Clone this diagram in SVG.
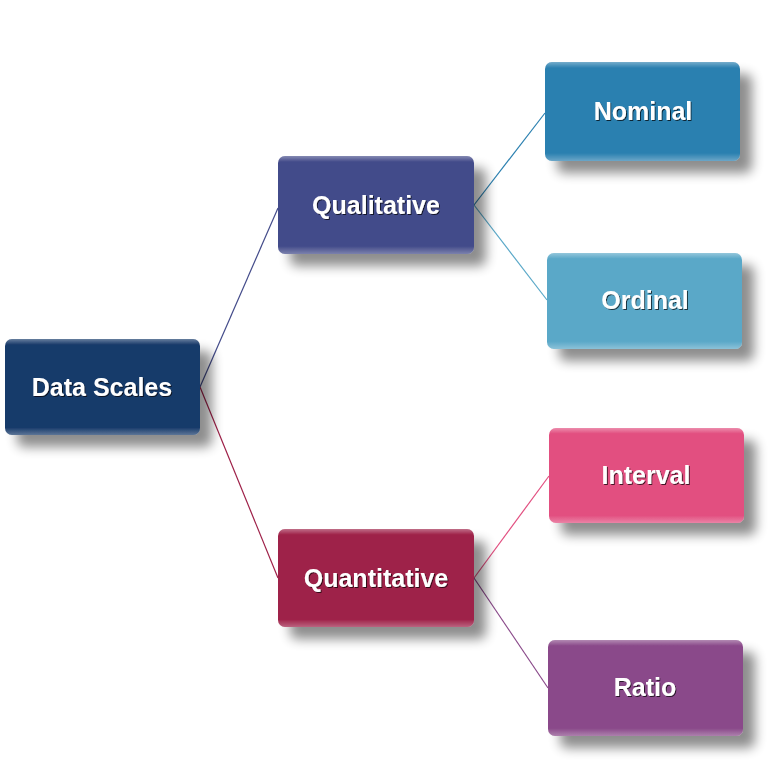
<svg xmlns="http://www.w3.org/2000/svg" width="783" height="776" viewBox="0 0 783 776">
<defs>
<filter id="sh" x="-20%" y="-20%" width="160%" height="160%"><feGaussianBlur in="SourceAlpha" stdDeviation="6"/><feOffset dx="12" dy="12"/><feComponentTransfer><feFuncA type="linear" slope="0.45"/></feComponentTransfer><feMerge><feMergeNode/><feMergeNode in="SourceGraphic"/></feMerge></filter>
<filter id="ts"><feDropShadow dx="1" dy="1" stdDeviation="0.6" flood-color="#000" flood-opacity="0.7"/></filter>
<linearGradient id="bev" x1="0" y1="0" x2="0" y2="1"><stop offset="0" stop-color="#fff" stop-opacity="0.35"/><stop offset="0.06" stop-color="#fff" stop-opacity="0"/><stop offset="0.92" stop-color="#fff" stop-opacity="0"/><stop offset="1" stop-color="#fff" stop-opacity="0.3"/></linearGradient>
</defs>
<style>
text{font-family:"Liberation Sans",Arial,sans-serif;font-weight:bold;font-size:25px;fill:#fff;text-anchor:middle;dominant-baseline:central;filter:url(#ts)}
.c{fill:none;stroke-width:1.2}
.b{fill:url(#bev)}
</style>
<g id="connectors">
<line class="c" x1="200" y1="387" x2="278" y2="208" stroke="#434b8a"/>
<line class="c" x1="200" y1="387" x2="278" y2="578" stroke="#9e2048"/>
<line class="c" x1="474" y1="205" x2="545" y2="113" stroke="#2b80b0"/>
<line class="c" x1="474" y1="205" x2="547" y2="300" stroke="#5aa8c8"/>
<line class="c" x1="474" y1="578" x2="549" y2="476" stroke="#e24f80"/>
<line class="c" x1="474" y1="578" x2="548" y2="688" stroke="#8a4a8a"/>
</g>
<g id="n-data" filter="url(#sh)"><rect x="5" y="339" width="195" height="96" rx="7" fill="#173a6a"/><rect class="b" x="5" y="339" width="195" height="96" rx="7"/><text x="102" y="387">Data Scales</text></g>
<g id="n-qual" filter="url(#sh)"><rect x="278" y="156" width="196" height="98" rx="7" fill="#434b8a"/><rect class="b" x="278" y="156" width="196" height="98" rx="7"/><text x="376" y="205">Qualitative</text></g>
<g id="n-quant" filter="url(#sh)"><rect x="278" y="529" width="196" height="98" rx="7" fill="#9e2048"/><rect class="b" x="278" y="529" width="196" height="98" rx="7"/><text x="376" y="578">Quantitative</text></g>
<g id="n-nom" filter="url(#sh)"><rect x="545" y="62" width="195" height="99" rx="7" fill="#2b80b0"/><rect class="b" x="545" y="62" width="195" height="99" rx="7"/><text x="643" y="111">Nominal</text></g>
<g id="n-ord" filter="url(#sh)"><rect x="547" y="253" width="195" height="96" rx="7" fill="#5aa8c8"/><rect class="b" x="547" y="253" width="195" height="96" rx="7"/><text x="645" y="300">Ordinal</text></g>
<g id="n-int" filter="url(#sh)"><rect x="549" y="428" width="195" height="95" rx="7" fill="#e24f80"/><rect class="b" x="549" y="428" width="195" height="95" rx="7"/><text x="646" y="475">Interval</text></g>
<g id="n-ratio" filter="url(#sh)"><rect x="548" y="640" width="195" height="96" rx="7" fill="#8a4a8a"/><rect class="b" x="548" y="640" width="195" height="96" rx="7"/><text x="645" y="687">Ratio</text></g>
</svg>
